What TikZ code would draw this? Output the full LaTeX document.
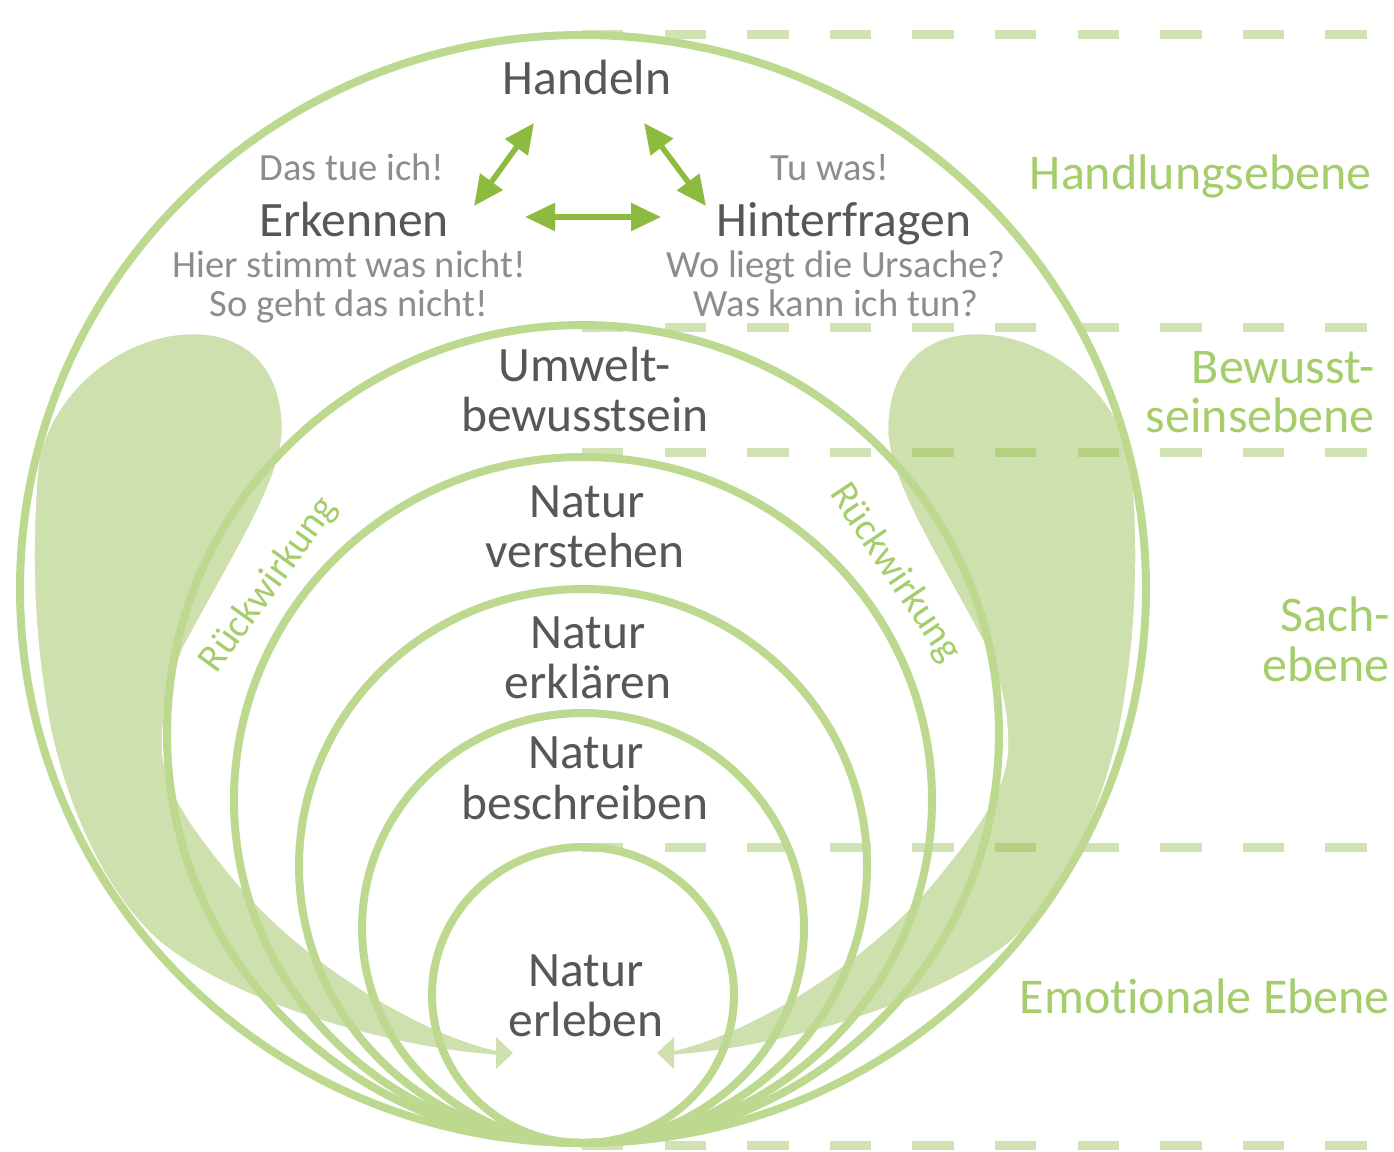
\documentclass[tikz,border=0pt]{standalone}
\usepackage{fontspec}
\setmainfont{Carlito}[RawFeature={-liga}]
\usetikzlibrary{arrows.meta}
\definecolor{ring}{HTML}{BDD990}
\definecolor{drop}{HTML}{CFE0AF}
\definecolor{arr}{HTML}{8DBB3F}
\definecolor{maintxt}{HTML}{55575A}
\definecolor{subtxt}{HTML}{8B8D90}
\definecolor{lvl}{HTML}{A5CD6B}
\begin{document}
\begin{tikzpicture}[x=1pt,y=-1pt,
 ringline/.style={draw=ring,line width=8pt},
 dropfill/.style={fill=drop,draw=white,line width=2.5pt,line join=round},
 dashline/.style={draw=arr,draw opacity=0.4,line width=9pt,dash pattern=on 41.3pt off 41.3pt},
 maintext/.style={text=maintxt,font=\fontsize{49.5}{50}\selectfont,anchor=base,inner sep=0pt},
 subtext/.style={text=subtxt,font=\fontsize{38.5}{40}\selectfont,anchor=base,inner sep=0pt},
 lvltext/.style={text=lvl,font=\fontsize{50}{51}\selectfont,anchor=base east,inner sep=0pt},
 rueck/.style={text=lvl,font=\fontsize{39.5}{40}\selectfont,inner sep=0pt},
 dblarrow/.style={draw=arr,line width=5.5pt,arrows={Triangle[length=30pt,width=27pt]-Triangle[length=30pt,width=27pt]}}
]
\useasboundingbox (0,0) rectangle (1394,1151);
\fill[white] (0,0) rectangle (1394,1151);

% feedback drops
\def\droppath{(193,333) .. controls (120,333) and (45,395) .. (37,470)
  .. controls (30,560) and (33,640) .. (50,730)
  .. controls (70,820) and (110,900) .. (160,943)
  .. controls (230,1000) and (380,1048) .. (498,1056)
  -- (498,1050)
  .. controls (420,1033) and (300,960) .. (233,877)
  .. controls (195,830) and (163,790) .. (163,745)
  .. controls (163,705) and (172,680) .. (183,650)
  .. controls (230,560) and (284,480) .. (283,427)
  .. controls (282,370) and (250,333) .. (193,333) -- cycle}
\path[dropfill] \droppath;
\fill[drop] (513,1053) -- (496,1037) -- (496,1069) -- cycle;
\begin{scope}[xshift=1170pt,xscale=-1]
\path[dropfill] \droppath;
\fill[drop] (513,1053) -- (496,1037) -- (496,1069) -- cycle;
\end{scope}

% level separators
\foreach \yy in {34.5,327,452,847,1145}
  \draw[dashline] (582,\yy) -- (1368,\yy);

% rings
\foreach \rv/\rh in {554/563, 409/416, 343/349, 277/284, 215/221, 148/151}
  \draw[ringline] (583,1143-\rv) ellipse [x radius=\rh, y radius=\rv];

% texts
\node[maintext] (handeln) at (587,94) {Handeln};
\node[subtext] (dastue) at (352,180) {Das tue ich!};
\node[maintext] (erkennen) at (354,236) {Erkennen};
\node[subtext] (hier) at (349,277) {Hier stimmt was nicht!};
\node[subtext] (sogeht) at (349,316) {So geht das nicht!};
\node[subtext] (tuwas) at (830,180) {Tu was!};
\node[maintext] (hinter) at (844,236) {Hinterfragen};
\node[subtext] (wo) at (836,277) {Wo liegt die Ursache?};
\node[subtext] (was) at (836,316) {Was kann ich tun?};

\node[maintext] (umw1) at (585,381) {Umwelt-};
\node[maintext] (umw2) at (585,431) {bewusstsein};
\node[maintext] (vers1) at (587,517) {Natur};
\node[maintext] (vers2) at (585,567) {verstehen};
\node[maintext] (erkl1) at (588,648) {Natur};
\node[maintext] (erkl2) at (588,698) {erklären};
\node[maintext] (besch1) at (586,768) {Natur};
\node[maintext] (besch2) at (585,819) {beschreiben};
\node[maintext] (erl1) at (586,986) {Natur};
\node[maintext] (erl2) at (586,1036) {erleben};

\node[lvltext] (lv1) at (1372,189) {Handlungsebene};
\node[lvltext] (lv2a) at (1375,383) {Bewusst-};
\node[lvltext] (lv2b) at (1375,432) {seinsebene};
\node[lvltext] (lv3a) at (1390,631) {Sach-};
\node[lvltext] (lv3b) at (1390,681) {ebene};
\node[lvltext] (lv4) at (1390,1013) {Emotionale Ebene};

\node[rueck,rotate=54] (rwl) at (269,585) {Rückwirkung};
\node[rueck,rotate=-56] (rwr) at (895,573) {Rückwirkung};

% triangle of arrows
\coordinate (hL) at (534,123);
\coordinate (eT) at (474,206);
\coordinate (hR) at (644,123);
\coordinate (iT) at (706,206);
\coordinate (eR) at (525,217);
\coordinate (iL) at (661,217);
\draw[dblarrow] (eT) -- (hL);
\draw[dblarrow] (hR) -- (iT);
\draw[dblarrow] (eR) -- (iL);
\end{tikzpicture}
\end{document}
